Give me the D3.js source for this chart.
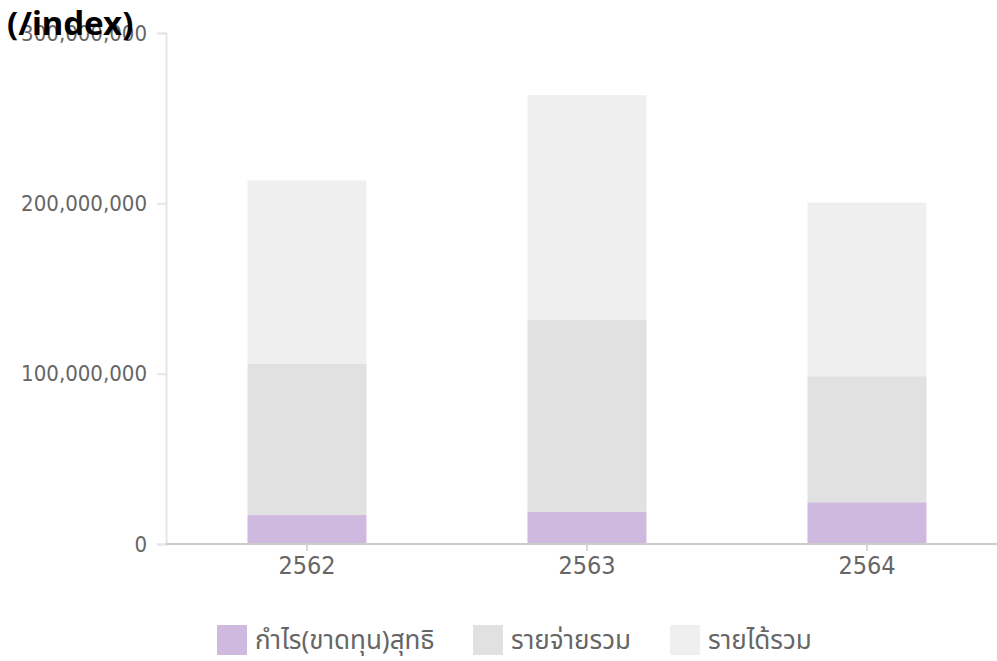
<!DOCTYPE html>
<html lang="th">
<head>
<meta charset="UTF-8">
<title>(/index)</title>
<script src="https://d3js.org/d3.v7.min.js"></script>
<style>
body {margin: 0; background: #fff;}
svg {display: block;}
.title {font-family: "Noto Sans", "Open Sans", sans-serif; font-weight: bold; font-size: 33px; fill: #000;}
.axis text {font-family: "DejaVu Sans Condensed", "DejaVu Sans", sans-serif; fill: #666;}
.legend text {font-family: "Noto Sans Thai", "Noto Sans", "DejaVu Sans", sans-serif; font-size: 26px; fill: #666;}
</style>
</head>
<body>
<svg width="997" height="661"></svg>
<script>
// values
var years = ["2562", "2563", "2564"];
var profit = [17000000, 19000000, 24500000];
var expense = [89000000, 112500000, 74000000];
var income = [107500000, 132000000, 102000000];
var seriesNames = ["กำไร(ขาดทุน)สุทธิ", "รายจ่ายรวม", "รายได้รวม"];
var seriesColors = ["#d0b9df", "#e1e1e1", "#efefef"];
var yTicks = [0, 100000000, 200000000, 300000000];

var rows = years.map(function(y, i) {
  return {year: y, p: profit[i], e: expense[i], r: income[i]};
});
var stack = d3.stack().keys(["p", "e", "r"])(rows);

var svg = d3.select("svg");

var x = d3.scaleBand().domain(years).range([167, 1007])
  .paddingInner(0.575).paddingOuter(0.2875);
var y = d3.scaleLinear().domain([0, 300000000]).range([544, 33]);

// y axis
var yAxis = svg.append("g")
  .attr("class", "axis")
  .attr("transform", "translate(166,0)")
  .call(d3.axisLeft(y).tickValues(yTicks).tickFormat(d3.format(",")).tickSize(9).tickPadding(10));
yAxis.select(".domain").attr("stroke", "#e6e6e6").attr("stroke-width", 2);
yAxis.selectAll(".tick line").attr("stroke", "#e6e6e6").attr("stroke-width", 2);
yAxis.selectAll("text").style("font-size", "22px");

// bars
svg.append("g").selectAll("g")
  .data(stack)
  .enter()
  .append("g")
  .attr("fill", function(d, i) { return seriesColors[i]; })
  .selectAll("rect")
  .data(function(d) { return d; })
  .enter()
  .append("rect")
  .attr("x", function(d) { return x(d.data.year); })
  .attr("width", x.bandwidth())
  .attr("y", function(d) { return y(d[1]); })
  .attr("height", function(d) { return y(d[0]) - y(d[1]); });

// x axis
var xAxis = svg.append("g")
  .attr("class", "axis")
  .attr("transform", "translate(0,544)")
  .call(d3.axisBottom(x).tickSize(7).tickPadding(5).tickSizeOuter(0));
xAxis.select(".domain").attr("stroke", "#cccccc").attr("stroke-width", 2).attr("d", "M166,0H997");
xAxis.selectAll(".tick line").attr("stroke", "#cccccc").attr("stroke-width", 1.5);
xAxis.selectAll("text").style("font-size", "25px");

// legend
var legendX = [217, 473, 670];
var legend = svg.append("g").attr("class", "legend")
  .selectAll("g")
  .data(seriesNames)
  .enter()
  .append("g")
  .attr("transform", function(d, i) { return "translate(" + legendX[i] + ",625)"; });
legend.append("rect")
  .attr("width", 30).attr("height", 30)
  .attr("fill", function(d, i) { return seriesColors[i]; });
legend.append("text")
  .attr("x", 38).attr("y", 24)
  .text(function(d) { return d; });

svg.append("text")
  .attr("class", "title")
  .attr("x", 7).attr("y", 35)
  .text("(/index)");
</script>
</body>
</html>
